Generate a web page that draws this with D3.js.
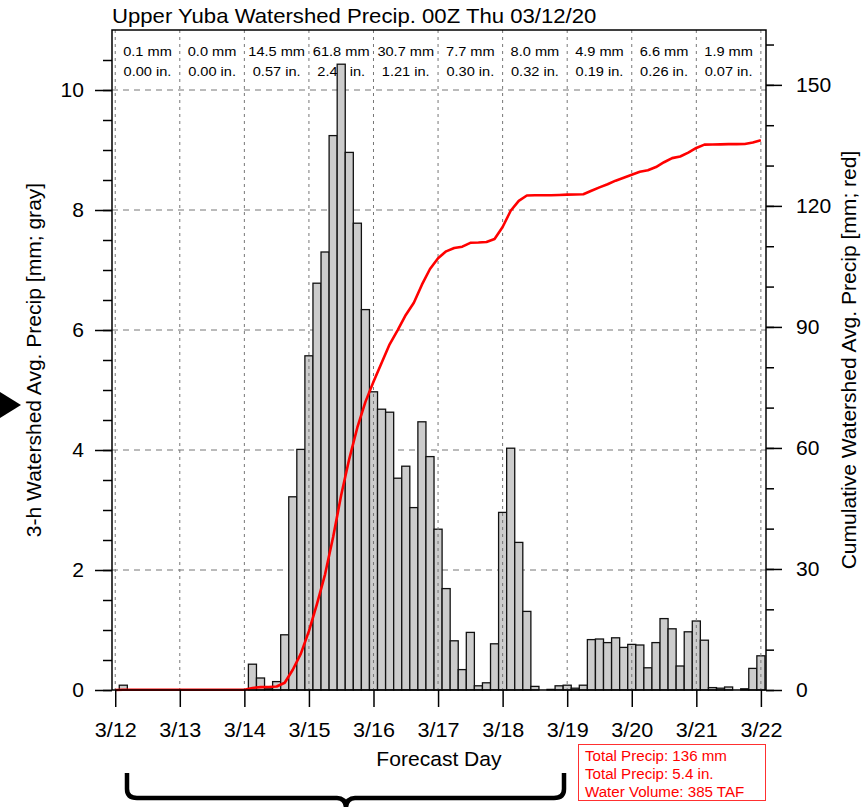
<!doctype html>
<html lang="en">
<head>
<meta charset="UTF-8">
<title>Upper Yuba Watershed Precip</title>
<script src="https://d3js.org/d3.v7.min.js"></script>
<style>
    body { margin: 0; background: #fff; }
    text { font-family: "Liberation Sans", Arial, Helvetica, sans-serif; fill: #000; }
    .axis path { display: none; }
    .axis line { stroke: #000; stroke-width: 1.5; }
    /* the reference looks a bit wide, stretch text horizontally */
    .sx-l, .sx-m, .sx-r { transform-box: fill-box; transform: scaleX(1.08); }
    .sx-l { transform-origin: left center; }
    .sx-m { transform-origin: center center; }
    .sx-r { transform-origin: right center; }
</style>
</head>
<body>
<svg id="chart" width="863" height="807"></svg>
<script>
// 3-h watershed average precip [mm], 3/12 00Z .. 3/22 00Z, one value every 3 h
var precip3h = [0,
    0.08, 0, 0, 0, 0, 0, 0, 0,                      // 3/12
    0, 0, 0, 0, 0, 0, 0, 0,                         // 3/13
    0.43, 0.2, 0.02, 0.14, 0.92, 3.22, 4.01, 5.57,  // 3/14
    6.78, 7.3, 9.24, 10.43, 8.96, 7.78, 6.34, 4.97, // 3/15
    4.68, 4.63, 3.53, 3.73, 3.04, 4.47, 3.89, 2.68, // 3/16
    1.69, 0.82, 0.34, 0.96, 0.07, 0.12, 0.77, 2.96, // 3/17
    4.03, 2.46, 1.31, 0.06, 0, 0.01, 0.07, 0.08,    // 3/18
    0.03, 0.08, 0.84, 0.85, 0.79, 0.87, 0.71, 0.76, // 3/19
    0.75, 0.37, 0.79, 1.19, 1.02, 0.4, 0.97, 1.15,  // 3/20
    0.83, 0.04, 0.03, 0.05, 0, 0.02, 0.36, 0.57     // 3/21
];
var dayLabels = ["3/12", "3/13", "3/14", "3/15", "3/16", "3/17", "3/18", "3/19", "3/20", "3/21", "3/22"];
var dayMm = ["0.1 mm", "0.0 mm", "14.5 mm", "61.8 mm", "30.7 mm", "7.7 mm", "8.0 mm", "4.9 mm", "6.6 mm", "1.9 mm"];
var dayIn = ["0.00 in.", "0.00 in.", "0.57 in.", "2.43 in.", "1.21 in.", "0.30 in.", "0.32 in.", "0.19 in.", "0.26 in.", "0.07 in."];
var summaryLines = ["Total Precip: 136 mm", "Total Precip: 5.4 in.", "Water Volume: 385 TAF"];
var leftTicks = [0, 2, 4, 6, 8, 10];
var rightTicks = [0, 30, 60, 90, 120, 150];

var t0 = Date.UTC(2020, 2, 12);
var hour = 3600 * 1000;
var times = precip3h.map(function (d, i) { return new Date(t0 + i * 3 * hour); });
var days = dayLabels.map(function (d, i) { return new Date(t0 + i * 24 * hour); });
var cumul = Array.from(d3.cumsum(precip3h));

var pLeft = 112, pRight = 766, pTop = 30, pBottom = 690;

var x = d3.scaleUtc()
    .domain([new Date(t0 - 1.2 * hour), new Date(t0 + 241.9 * hour)])
    .range([pLeft, pRight]);
var y = d3.scaleLinear().domain([0, 11]).range([pBottom, pTop]);
var y2 = d3.scaleLinear().domain([0, 163.6]).range([pBottom, pTop]);

var svg = d3.select("#chart");

// horizontal grid (under the bars)
svg.append("g")
    .selectAll("line")
    .data(leftTicks.slice(1))
    .enter()
    .append("line")
    .attr("x1", pLeft).attr("x2", pRight)
    .attr("y1", function (d) { return y(d); })
    .attr("y2", function (d) { return y(d); })
    .attr("stroke", "#777")
    .attr("stroke-width", 1)
    .attr("stroke-dasharray", "6,5");

// daily totals
var mid = function (i) { return (x(days[i]) + x(days[i + 1])) / 2; };
svg.append("g").selectAll("text")
    .data(dayMm).enter().append("text")
    .attr("class", "sx-m")
    .attr("x", function (d, i) { return mid(i); })
    .attr("y", 56)
    .attr("text-anchor", "middle")
    .attr("font-size", "13.5px")
    .text(function (d) { return d; });
svg.append("g").selectAll("text")
    .data(dayIn).enter().append("text")
    .attr("class", "sx-m")
    .attr("x", function (d, i) { return mid(i); })
    .attr("y", 76)
    .attr("text-anchor", "middle")
    .attr("font-size", "13.5px")
    .text(function (d) { return d; });

// bars (zero values are not drawn)
var bw = x(times[1]) - x(times[0]);
var barData = precip3h.map(function (v, i) { return {v: v, t: times[i]}; })
    .filter(function (d) { return d.v > 0; });
svg.append("g")
    .selectAll("rect")
    .data(barData)
    .enter()
    .append("rect")
    .attr("x", function (d) { return x(d.t) - bw / 2; })
    .attr("width", bw)
    .attr("y", function (d) { return y(d.v); })
    .attr("height", function (d) { return pBottom - y(d.v); })
    .attr("fill", "#cccccc")
    .attr("stroke", "#111")
    .attr("stroke-width", 1.3);

// vertical grid (over the bars)
svg.append("g")
    .selectAll("line")
    .data(days)
    .enter()
    .append("line")
    .attr("x1", function (d) { return x(d); })
    .attr("x2", function (d) { return x(d); })
    .attr("y1", pTop).attr("y2", pBottom)
    .attr("stroke", "#777")
    .attr("stroke-width", 1)
    .attr("stroke-dasharray", "3,4");

// cumulative precip line
var line = d3.line()
    .x(function (d, i) { return x(times[i]); })
    .y(function (d) { return y2(d); });
svg.append("path")
    .datum(cumul)
    .attr("d", line)
    .attr("fill", "none")
    .attr("stroke", "#ff0000")
    .attr("stroke-width", 2.6)
    .attr("stroke-linejoin", "round");

// frame
svg.append("rect")
    .attr("x", pLeft).attr("y", pTop)
    .attr("width", pRight - pLeft).attr("height", pBottom - pTop)
    .attr("fill", "none")
    .attr("stroke", "#000")
    .attr("stroke-width", 1.5);

// left axis
svg.append("g").attr("class", "axis")
    .attr("transform", "translate(" + pLeft + ",0)")
    .call(d3.axisLeft(y).tickValues(d3.range(0, 11, 0.5)).tickSize(9).tickFormat(""));
svg.append("g").attr("class", "axis")
    .attr("transform", "translate(" + pLeft + ",0)")
    .call(d3.axisLeft(y).tickValues(leftTicks).tickSize(17).tickPadding(11))
    .selectAll("text").attr("font-size", "19.5px").attr("class", "sx-r");

// right axis
svg.append("g").attr("class", "axis")
    .attr("transform", "translate(" + pRight + ",0)")
    .call(d3.axisRight(y2).tickValues(d3.range(0, 161, 10)).tickSize(8).tickFormat(""));
svg.append("g").attr("class", "axis")
    .attr("transform", "translate(" + pRight + ",0)")
    .call(d3.axisRight(y2).tickValues(rightTicks).tickSize(16).tickPadding(14))
    .selectAll("text").attr("font-size", "19.5px").attr("class", "sx-l");

// bottom axis
svg.append("g").attr("class", "axis")
    .attr("transform", "translate(0," + pBottom + ")")
    .call(d3.axisBottom(x).tickValues(days).tickSize(17).tickPadding(16)
        .tickFormat(function (d, i) { return dayLabels[i]; }))
    .selectAll("text").attr("font-size", "20px").attr("class", "sx-m");

// titles
svg.append("text")
    .attr("class", "sx-l")
    .attr("x", pLeft).attr("y", 23)
    .attr("font-size", "20.5px")
    .text("Upper Yuba Watershed Precip. 00Z Thu 03/12/20");

svg.append("text")
    .attr("transform", "translate(41," + (pTop + pBottom) / 2 + ") rotate(-90) scale(1.08,1)")
    .attr("text-anchor", "middle")
    .attr("font-size", "19.5px")
    .text("3-h Watershed Avg. Precip [mm; gray]");

svg.append("text")
    .attr("transform", "translate(856," + (pTop + pBottom) / 2 + ") rotate(-90) scale(1.08,1)")
    .attr("text-anchor", "middle")
    .attr("font-size", "19.5px")
    .text("Cumulative Watershed Avg. Precip [mm; red]");

svg.append("text")
    .attr("class", "sx-m")
    .attr("x", (pLeft + pRight) / 2).attr("y", 766)
    .attr("text-anchor", "middle")
    .attr("font-size", "19.5px")
    .text("Forecast Day");

// summary box
svg.append("rect")
    .attr("x", 578.5).attr("y", 744.5)
    .attr("width", 187).attr("height", 56)
    .attr("fill", "#fff")
    .attr("stroke", "#ff3030")
    .attr("stroke-width", 1);
svg.append("g").selectAll("text")
    .data(summaryLines).enter().append("text")
    .attr("class", "sx-l")
    .attr("x", 585)
    .attr("y", function (d, i) { return 761 + i * 18; })
    .attr("font-size", "14px")
    .style("fill", "#ff0000")
    .text(function (d) { return d; });

// annotations
svg.append("path")
    .attr("d", "M0,392 L21,405 L0,418 Z")
    .attr("fill", "#000");
svg.append("path")
    .attr("d", "M127,773 V789 Q127,798 137,798 H337 Q345,798 346,807 Q347,798 355,798 H554 Q564,798 564,789 V773")
    .attr("fill", "none")
    .attr("stroke", "#000")
    .attr("stroke-width", 4.5);
</script>
</body>
</html>
